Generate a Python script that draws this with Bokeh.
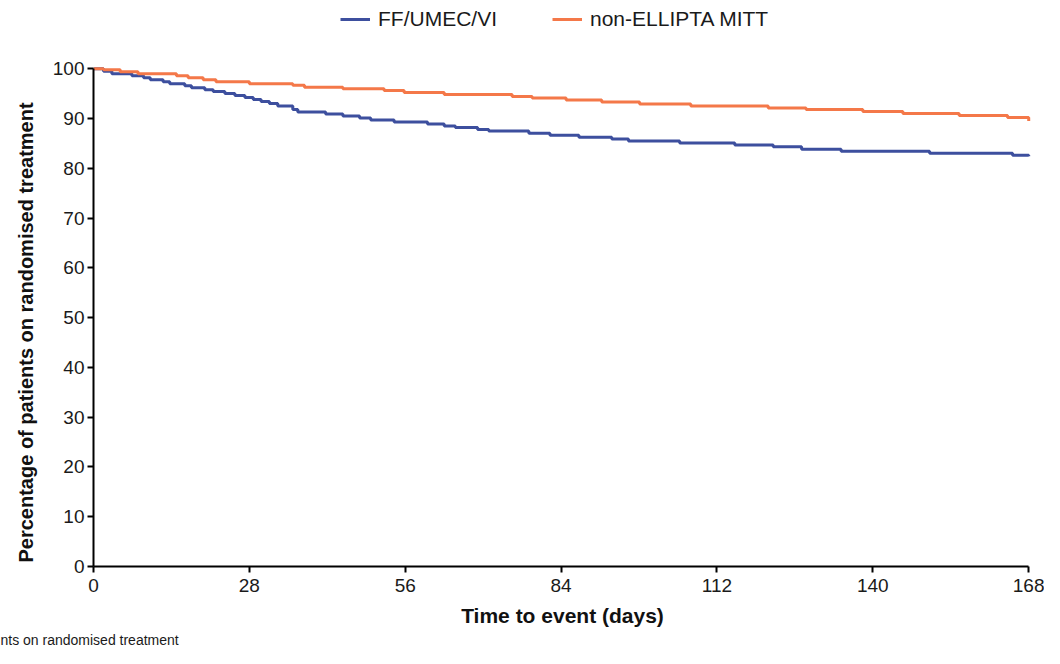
from bokeh.plotting import figure
from bokeh.models import Range1d, Legend, LegendItem, Title, FixedTicker
from bokeh.embed import file_html
from bokeh.resources import INLINE

# Kaplan-Meier style step data (days, % on randomised treatment)
ff_days = [0, 1.8, 3.3, 6.9, 9.0, 10.2, 12.5, 13.7, 16.4, 17.6, 20.0, 21.5, 23.6, 25.4,
           27.2, 28.7, 30.1, 31.6, 33.1, 35.8, 36.7, 41.7, 44.8, 47.8, 49.8, 54.0, 60.0,
           63.0, 65.0, 69.0, 71.0, 78.2, 82.0, 87.2, 93.1, 96.1, 105.3, 115.2, 122.1,
           127.2, 134.3, 150.2, 165.1, 168.0]
ff_pct = [100, 99.5, 99.0, 98.6, 98.2, 97.8, 97.4, 97.0, 96.6, 96.2, 95.8, 95.4, 95.0, 94.6,
          94.2, 93.8, 93.4, 93.0, 92.5, 91.8, 91.3, 90.9, 90.5, 90.1, 89.7, 89.3, 88.9,
          88.5, 88.2, 87.8, 87.5, 87.05, 86.65, 86.25, 85.9, 85.5, 85.1, 84.7, 84.3,
          83.8, 83.4, 83.0, 82.6, 82.4]

ne_days = [0, 1.8, 4.8, 8.0, 14.9, 17.0, 19.7, 22.0, 28.0, 35.8, 37.9, 44.8, 52.2, 55.8,
           63.0, 75.2, 78.8, 84.9, 91.3, 98.1, 107.3, 121.2, 128.0, 138.2, 145.4, 155.5,
           164.2, 168.0]
ne_pct = [100, 99.8, 99.4, 99.0, 98.6, 98.2, 97.8, 97.4, 97.0, 96.7, 96.3, 96.0, 95.6, 95.2,
          94.8, 94.4, 94.1, 93.7, 93.3, 92.9, 92.5, 92.1, 91.8, 91.4, 91.0, 90.6,
          90.2, 89.5]

x_ticks = [0, 28, 56, 84, 112, 140, 168]
y_ticks = [0, 10, 20, 30, 40, 50, 60, 70, 80, 90, 100]
series_names = ["FF/UMEC/VI", "non-ELLIPTA MITT"]
x_title = "Time to event (days)"
y_title = "Percentage of patients on randomised treatment"
footer = "nts on randomised treatment"
BLUE = "#3d4f9e"
ORANGE = "#f47849"
FONT = "Liberation Sans"

# the frame extends above 100 so the legend can sit inside it; the axis stops at 100
p = figure(width=1044, height=648, output_backend="svg", toolbar_location=None,
           x_range=Range1d(0, 168.5), y_range=Range1d(0, 112.7),
           min_border_left=93, min_border_right=13, min_border_top=5, min_border_bottom=82)
p.outline_line_color = None
p.grid.grid_line_color = None
p.background_fill_color = "white"
p.border_fill_color = "white"

r1 = p.step(ff_days, ff_pct, mode="after", line_color=BLUE, line_width=3)
r2 = p.step(ne_days, ne_pct, mode="after", line_color=ORANGE, line_width=3)

for ax in (p.xaxis[0], p.yaxis[0]):
    ax.axis_line_color = "black"
    ax.axis_line_width = 2
    ax.major_tick_line_color = "black"
    ax.major_tick_line_width = 2
    ax.major_tick_out = 6
    ax.major_tick_in = 0
    ax.minor_tick_line_color = None
    ax.major_label_text_font = FONT
    ax.major_label_text_font_size = "19px"
    ax.major_label_text_color = "#1a1a1a"
    ax.axis_label_text_font = FONT
    ax.axis_label_text_font_style = "bold"
    ax.axis_label_text_color = "#111111"

p.xaxis[0].ticker = FixedTicker(ticks=x_ticks)
p.xaxis[0].bounds = (0, 168)
p.xaxis[0].major_label_standoff = 6
p.xaxis[0].axis_label = x_title
p.xaxis[0].axis_label_text_font_size = "21px"
p.xaxis[0].axis_label_standoff = 9

p.yaxis[0].ticker = FixedTicker(ticks=y_ticks)
p.yaxis[0].bounds = (0, 100)
p.yaxis[0].major_label_standoff = 3

# y title as a left-panel title so it sits along the 0-100 axis, not the taller frame
p.add_layout(Title(text=y_title, align="left", offset=4, standoff=25,
                   text_font=FONT, text_font_size="20px", text_font_style="bold",
                   text_color="#111111"), "left")

legend = Legend(items=[LegendItem(label=series_names[0], renderers=[r1]),
                       LegendItem(label=series_names[1], renderers=[r2])],
                orientation="horizontal", location=(247, 535),
                background_fill_alpha=0, border_line_color=None,
                padding=0, margin=0, spacing=55, glyph_width=30, glyph_height=20,
                label_standoff=8, label_text_font=FONT, label_text_font_size="21px",
                label_text_color="#1a1a1a")
p.add_layout(legend, "center")

p.add_layout(Title(text=footer, align="left", offset=-93,
                   standoff=0, text_font=FONT, text_font_size="14px",
                   text_font_style="normal", text_color="#1a1a1a"), "below")

open("out.html", "w").write(file_html(p, INLINE))
